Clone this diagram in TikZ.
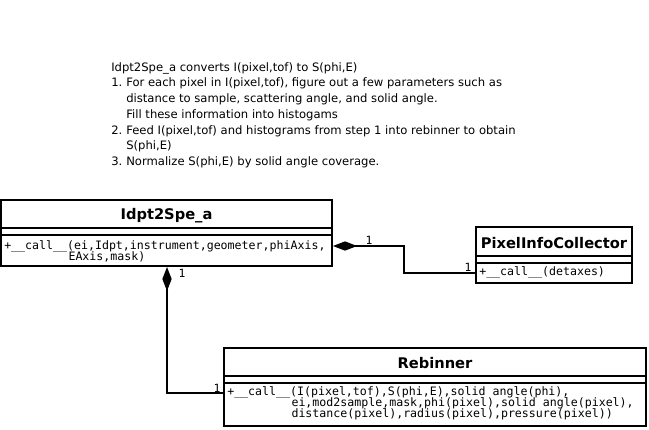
\documentclass[tikz,border=0pt]{standalone}
\usepackage{fontspec}
\setmainfont{DejaVu Sans}
\newfontfamily\monof{DejaVu Sans Mono}
\newcommand\methfont{\monof\fontsize{8.7pt}{8.4pt}\selectfont\lineskiplimit=-20pt\relax}
\newcommand\contind{\hspace*{9.2\fontcharwd\font`0\relax}}
\usetikzlibrary{arrows.meta,fit,calc}
\begin{document}
\begin{tikzpicture}[x=0.75pt,y=-0.75pt,
  box/.style={draw,line width=1.5pt,inner sep=0pt},
  sepline/.style={line width=1.5pt},
  conn/.style={line width=1.5pt},
  comp/.style={conn,{Diamond[length=18pt,width=7pt]}-},
  ctitle/.style={font=\fontsize{11pt}{12pt}\selectfont\bfseries,inner sep=0pt},
  meth/.style={font=\methfont,align=left,inner sep=0pt,anchor=north west},
  mult/.style={font=\monof\fontsize{8.5pt}{9pt}\selectfont,inner sep=0pt},
  note/.style={font=\fontsize{8.7pt}{11.8pt}\selectfont,align=left,inner sep=0pt,anchor=north west}
]
\useasboundingbox (0,0) rectangle (649,429);
\fill[white] (0,0) rectangle (649,429);

% note text
\node[note] (notes) at (111,62) {Idpt2Spe\_a converts I(pixel,tof) to S(phi,E)\\
\makebox[11.25pt][l]{1.}For each pixel in I(pixel,tof), figure out a few parameters such as\\
\hspace*{11.25pt}distance to sample, scattering angle, and solid angle.\\
\hspace*{11.25pt}Fill these information into histogams\\
\makebox[11.25pt][l]{2.}Feed I(pixel,tof) and histograms from step 1 into rebinner to obtain\\
\hspace*{11.25pt}S(phi,E)\\
\makebox[11.25pt][l]{3.}Normalize S(phi,E) by solid angle coverage.};

% Idpt2Spe_a
\coordinate (i1) at (1,200); \coordinate (i2) at (332,266);
\node[box,fit=(i1)(i2)] (idpt) {};
\draw[sepline] (idpt.west |- 0,228) -- (idpt.east |- 0,228);
\draw[sepline] (idpt.west |- 0,235) -- (idpt.east |- 0,235);
\node[ctitle] (idptT) at (166.5,215.5) {Idpt2Spe\_a};
\node[meth] (idptM) at (4,240) {+\_\_call\_\_(ei,Idpt,instrument,geometer,phiAxis,\\\contind EAxis,mask)};

% PixelInfoCollector
\coordinate (p1) at (476,227); \coordinate (p2) at (632,283);
\node[box,fit=(p1)(p2)] (pix) {};
\draw[sepline] (pix.west |- 0,256) -- (pix.east |- 0,256);
\draw[sepline] (pix.west |- 0,263) -- (pix.east |- 0,263);
\node[ctitle] (pixT) at (554,243) {PixelInfoCollector};
\node[meth] (pixM) at (479,266) {+\_\_call\_\_(detaxes)};

% Rebinner
\coordinate (r1) at (224,348); \coordinate (r2) at (646,426);
\node[box,fit=(r1)(r2)] (reb) {};
\draw[sepline] (reb.west |- 0,376) -- (reb.east |- 0,376);
\draw[sepline] (reb.west |- 0,383) -- (reb.east |- 0,383);
\node[ctitle] (rebT) at (435,363.5) {Rebinner};
\node[meth] (rebM) at (227,386) {+\_\_call\_\_(I(pixel,tof),S(phi,E),solid angle(phi),\\
\contind ei,mod2sample,mask,phi(pixel),solid angle(pixel),\\
\contind distance(pixel),radius(pixel),pressure(pixel))};

% connector anchors
\coordinate (cIR) at (idpt.east |- 0,246);
\coordinate (cPL) at (pix.west |- 0,273);
\coordinate (cIB) at (idpt.south -| 167,0);
\coordinate (cRL) at (reb.west |- 0,393);

\draw[comp] (cIR) -| ($(cIR)!0.5!(cPL)$) |- (cPL);
\draw[comp] (cIB) |- (cRL);

% multiplicities
\node[mult] (m1) at (369,240) {1};
\node[mult] (m2) at (468,267) {1};
\node[mult] (m3) at (182,273) {1};
\node[mult] (m4) at (217,388) {1};
\end{tikzpicture}
\end{document}
